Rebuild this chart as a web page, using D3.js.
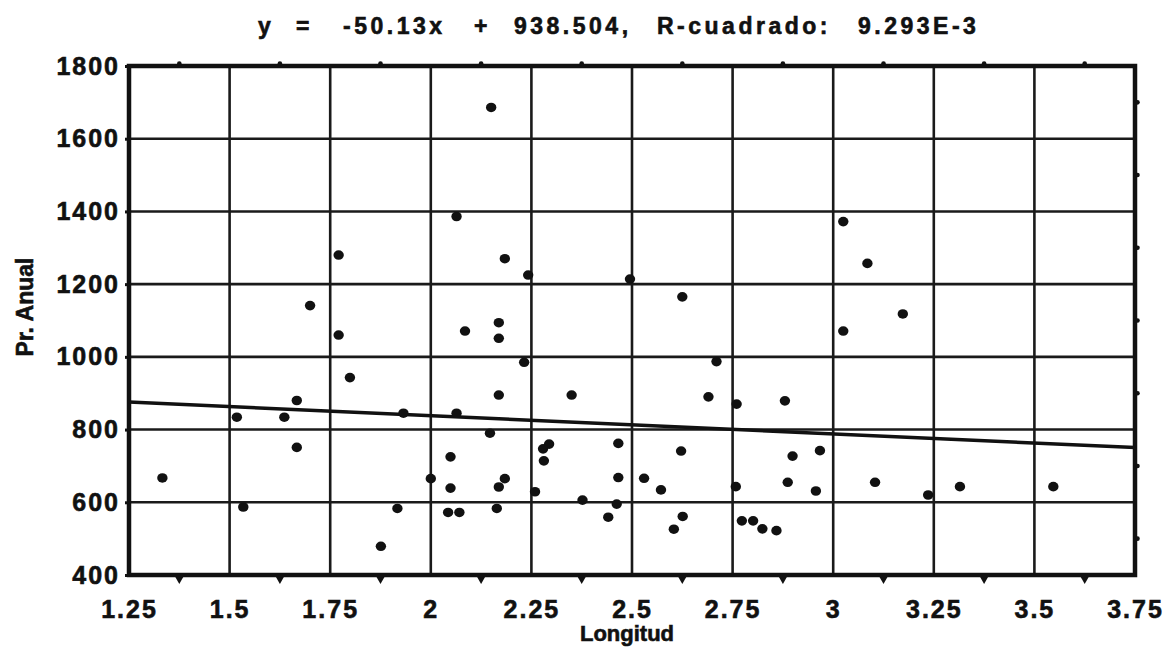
<!DOCTYPE html>
<html>
<head>
<meta charset="utf-8">
<script src="https://cdn.jsdelivr.net/npm/d3@7"></script>
<style>
	body { margin: 0; background: #fff; }
	text { font-family: "Liberation Sans", Arial, sans-serif; font-weight: bold; fill: #111; stroke: #111; stroke-width: 0.6px; }
</style>
</head>
<body>
<div id="chart-area"></div>
<script>
// data
var longitud = [2.150, 2.064, 2.184, 2.242, 2.495, 2.625, 2.085, 2.169, 2.169, 2.232,
	2.710, 2.169, 2.350, 2.690, 2.760, 3.025, 3.085, 3.173, 3.025, 2.880,
	1.771, 1.700, 1.771, 1.799, 1.667, 1.518, 1.636, 1.333, 1.667, 1.534,
	1.876, 1.917, 1.932, 2.000, 2.049, 2.049, 2.043, 2.071, 2.169, 2.184,
	2.164, 2.147, 2.064, 2.294, 2.279, 2.281, 2.259, 2.377, 2.466, 2.466,
	2.462, 2.441, 2.530, 2.572, 2.622, 2.626, 2.604, 2.758, 2.773, 2.801,
	2.824, 2.859, 2.899, 2.967, 2.887, 2.957, 3.104, 3.236, 3.315, 3.547];
var prAnual = [1686, 1386, 1270, 1225, 1214, 1165, 1071, 1094, 1051, 985,
	987, 895, 895, 890, 870, 1372, 1257, 1118, 1071, 879,
	1280, 1141, 1060, 943, 880, 834, 834, 667, 751, 587,
	479, 583, 845, 665, 725, 639, 572, 572, 642, 665,
	583, 790, 845, 760, 747, 714, 629, 606, 762, 668,
	595, 559, 666, 634, 741, 561, 526, 643, 549, 549,
	527, 522, 727, 742, 655, 631, 655, 620, 643, 643];

// trend line end points (y = -50.13x + 938.504)
var trendX = [1.25, 3.75];
var trendY = [875.8, 750.5];

var xTicks = [1.25, 1.5, 1.75, 2, 2.25, 2.5, 2.75, 3, 3.25, 3.5, 3.75];
var xTickLabels = ["1.25", "1.5", "1.75", "2", "2.25", "2.5", "2.75", "3", "3.25", "3.5", "3.75"];
var xMinor = [1.375, 1.625, 1.875, 2.125, 2.375, 2.625, 2.875, 3.125, 3.375, 3.625];
var yTicks = [400, 600, 800, 1000, 1200, 1400, 1600, 1800];
var yMinor = [500, 700, 900, 1100, 1300, 1500, 1700];

var titleWords = ["y", "=", "-50.13x", "+", "938.504,", "R-cuadrado:", "9.293E-3"];
var xTitle = "Longitud";
var yTitle = "Pr. Anual";

var margins = { top: 66, bottom: 75, left: 129, right: 30 };
var width = 1165 - margins.left - margins.right;
var height = 650 - margins.top - margins.bottom;

var svg = d3.select("#chart-area")
	.append("svg")
		.attr("width", 1165)
		.attr("height", 650);

var g = svg.append("g")
	.attr("transform", `translate(${margins.left}, ${margins.top})`);

var x = d3.scaleLinear().domain([1.25, 3.75]).range([0, width]);
var y = d3.scaleLinear().domain([400, 1800]).range([height, 0]);

// grid
g.selectAll(".vgrid")
	.data(xTicks)
	.enter().append("line")
		.attr("class", "vgrid")
		.attr("x1", d => x(d)).attr("x2", d => x(d))
		.attr("y1", 0).attr("y2", height)
		.attr("stroke", "#1a1a1a")
		.attr("stroke-width", 2.6);

g.selectAll(".hgrid")
	.data(yTicks)
	.enter().append("line")
		.attr("class", "hgrid")
		.attr("x1", 0).attr("x2", width)
		.attr("y1", d => y(d)).attr("y2", d => y(d))
		.attr("stroke", "#1a1a1a")
		.attr("stroke-width", 2.6);

// frame
g.append("rect")
	.attr("x", 0).attr("y", 0)
	.attr("width", width).attr("height", height)
	.attr("fill", "none")
	.attr("stroke", "#111")
	.attr("stroke-width", 4.5);

// minor ticks: triangles below, bumps on top and right
g.selectAll(".mtri")
	.data(xMinor)
	.enter().append("path")
		.attr("class", "mtri")
		.attr("d", d => `M${x(d) - 4},${height + 2} L${x(d) + 4},${height + 2} L${x(d)},${height + 9} Z`)
		.attr("fill", "#111");

g.selectAll(".mtop")
	.data(xMinor)
	.enter().append("circle")
		.attr("class", "mtop")
		.attr("cx", d => x(d)).attr("cy", -2.5)
		.attr("r", 2.3)
		.attr("fill", "#111");

g.selectAll(".mright")
	.data(yMinor)
	.enter().append("circle")
		.attr("class", "mright")
		.attr("cx", width + 2.5).attr("cy", d => y(d))
		.attr("r", 2.3)
		.attr("fill", "#111");

// axes (labels only)
var xAxisCall = d3.axisBottom(x)
	.tickValues(xTicks)
	.tickSize(0)
	.tickFormat((d, i) => xTickLabels[i]);
var xAxisGroup = g.append("g")
	.attr("transform", `translate(0, ${height})`)
	.call(xAxisCall);
xAxisGroup.select(".domain").remove();
xAxisGroup.selectAll("text")
	.attr("y", 25)
	.attr("dy", "0.71em")
	.attr("font-size", "25px")
	.attr("letter-spacing", "2px")
	.attr("font-family", null);

var yAxisCall = d3.axisLeft(y)
	.tickValues(yTicks)
	.tickSize(4)
	.tickFormat(d => String(d));
var yAxisGroup = g.append("g").call(yAxisCall);
yAxisGroup.select(".domain").remove();
yAxisGroup.selectAll("line").attr("stroke", "#111").attr("stroke-width", 3);
yAxisGroup.selectAll("text")
	.attr("x", -9)
	.attr("font-size", "25px")
	.attr("letter-spacing", "2px")
	.attr("font-family", null);

// trend line
g.append("path")
	.datum(d3.zip(trendX, trendY))
	.attr("d", d3.line().x(d => x(d[0])).y(d => y(d[1])))
	.attr("fill", "none")
	.attr("stroke", "#111")
	.attr("stroke-width", 3.5);

// points
g.selectAll(".pt")
	.data(d3.zip(longitud, prAnual))
	.enter().append("ellipse")
		.attr("class", "pt")
		.attr("cx", d => x(d[0]))
		.attr("cy", d => y(d[1]))
		.attr("rx", 5.2)
		.attr("ry", 4.8)
		.attr("fill", "#111");

// title: words spread like the original
var wordStarts = [258, 296, 343, 474, 514, 657, 858];
svg.append("text")
	.attr("y", 34)
	.attr("font-size", "23px")
	.attr("letter-spacing", "3.5px")
	.selectAll("tspan")
	.data(titleWords)
	.enter().append("tspan")
		.attr("x", (d, i) => wordStarts[i])
		.text(d => d);

svg.append("text")
	.attr("x", 627)
	.attr("y", 641)
	.attr("font-size", "22px")
	.attr("text-anchor", "middle")
	.text(xTitle);

svg.append("text")
	.attr("transform", "translate(33, 307) rotate(-90)")
	.attr("font-size", "23px")
	.attr("text-anchor", "middle")
	.text(yTitle);
</script>
</body>
</html>
